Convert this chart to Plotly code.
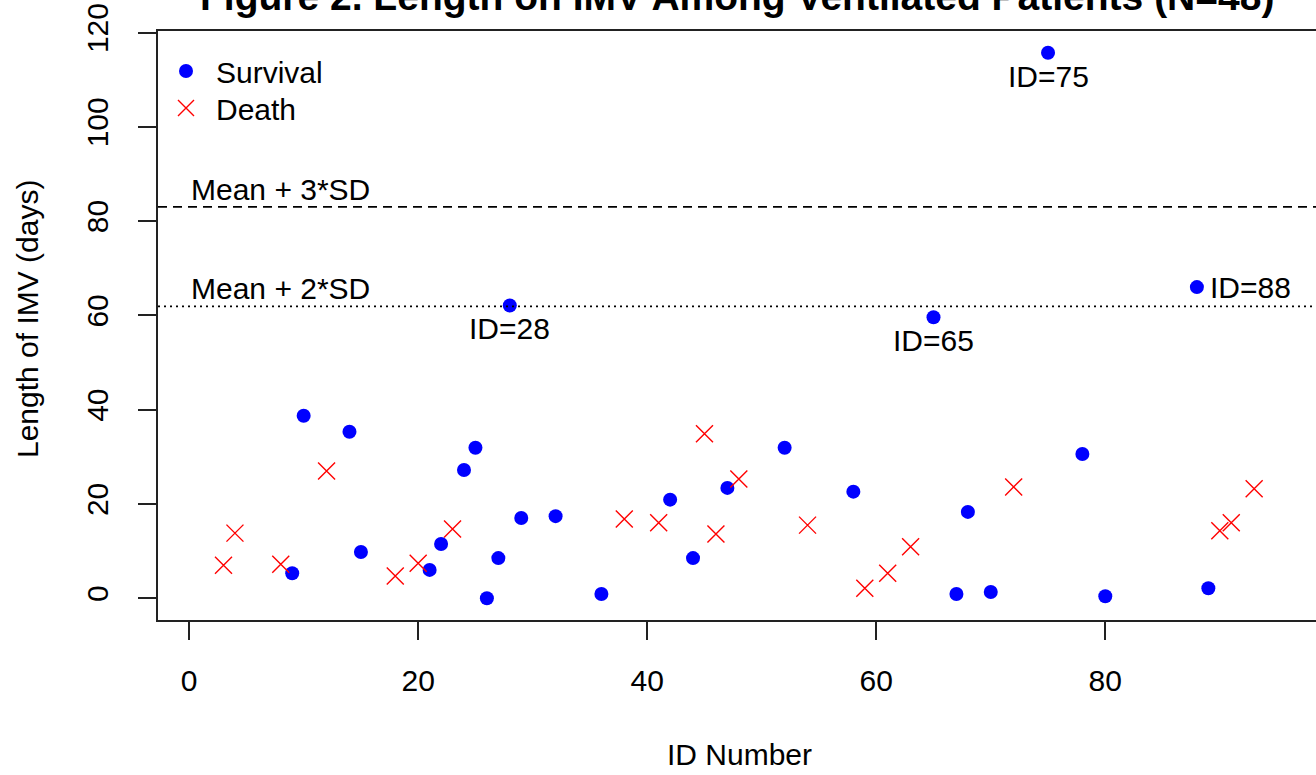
import plotly.graph_objects as go

# ---- data ----
surv_id = [9, 10, 14, 15, 21, 22, 24, 25, 26, 27, 28, 29, 32, 36, 42, 44, 47, 52,
           58, 65, 67, 68, 70, 75, 78, 80, 88, 89]
surv_days = [5.3, 38.7, 35.3, 9.8, 6.0, 11.5, 27.2, 31.9, 0.0, 8.5, 62.1, 17.0, 17.4, 0.9,
             20.9, 8.5, 23.4, 31.9, 22.6, 59.6, 0.9, 18.3, 1.3, 115.7, 30.6, 0.4, 66.0, 2.1]
death_id = [3, 4, 8, 12, 18, 20, 23, 38, 41, 45, 46, 48, 54, 59, 61, 63, 72, 90, 91, 93]
death_days = [7.0, 13.8, 7.2, 27.0, 4.7, 7.4, 14.7, 16.8, 16.0, 34.9, 13.6, 25.3, 15.5,
              2.1, 5.3, 10.9, 23.6, 14.3, 16.0, 23.2]

mean_plus_3sd = 83.0
mean_plus_2sd = 61.9

label_below = {"ID=28": (28, 62.1), "ID=65": (65, 59.6), "ID=75": (75, 115.7)}
label_right = {"ID=88": (88, 66.0)}

x_ticks = [0, 20, 40, 60, 80]
y_ticks = [0, 20, 40, 60, 80, 100, 120]

title_text = "Figure 2. Length on IMV Among Ventilated Patients (N=48)"

FONT = "Liberation Sans, Arial, sans-serif"
FS = 30

fig = go.Figure()
fig.add_trace(go.Scatter(
    x=surv_id, y=surv_days, mode="markers", name="Survival", legend="legend",
    marker=dict(symbol="circle", size=14, color="#0000FF", line=dict(width=0)),
))
fig.add_trace(go.Scatter(
    x=death_id, y=death_days, mode="markers", name="Death", legend="legend2",
    marker=dict(symbol="x-thin-open", size=17, color="#FF0000",
                line=dict(width=1.4, color="#FF0000")),
))

# reference lines
fig.add_shape(type="line", xref="paper", x0=0, x1=1, yref="y",
              y0=mean_plus_3sd, y1=mean_plus_3sd,
              line=dict(color="black", width=1.7, dash="9px,6px"))
fig.add_shape(type="line", xref="paper", x0=0, x1=1, yref="y",
              y0=mean_plus_2sd, y1=mean_plus_2sd,
              line=dict(color="black", width=1.7, dash="2px,4px"))

annos = []
annos.append(dict(x=0, y=mean_plus_3sd, xref="x", yref="y", text="Mean + 3*SD",
                  xanchor="left", yanchor="bottom", showarrow=False, yshift=-1,
                  font=dict(size=FS, color="black", family=FONT)))
annos.append(dict(x=0, y=mean_plus_2sd, xref="x", yref="y", text="Mean + 2*SD",
                  xanchor="left", yanchor="bottom", showarrow=False, yshift=-1,
                  font=dict(size=FS, color="black", family=FONT)))
for t, (xx, yy) in label_below.items():
    annos.append(dict(x=xx, y=yy, xref="x", yref="y", text=t, xanchor="center",
                      yanchor="top", showarrow=False, yshift=-5,
                      font=dict(size=FS, color="black", family=FONT)))
for t, (xx, yy) in label_right.items():
    annos.append(dict(x=xx, y=yy, xref="x", yref="y", text=t, xanchor="left",
                      yanchor="middle", showarrow=False, xshift=11,
                      font=dict(size=FS, color="black", family=FONT)))

PW = 1158.0
PH = 589.0
# axis titles
annos.append(dict(x=(739 - 158) / PW, y=(620 - 754) / PH, xref="paper", yref="paper",
                  text="ID Number", showarrow=False, xanchor="center", yanchor="middle",
                  font=dict(size=FS, color="black", family=FONT)))
annos.append(dict(x=(28 - 158) / PW, y=(620 - 319) / PH, xref="paper", yref="paper",
                  text="Length of IMV (days)", showarrow=False, textangle=-90,
                  xanchor="center", yanchor="middle",
                  font=dict(size=FS, color="black", family=FONT)))
# title (partly cut off at the top, as in the reference)
annos.append(dict(x=(737 - 158) / PW, y=(620 - (-4)) / PH, xref="paper", yref="paper",
                  text="<b>" + title_text + "</b>", showarrow=False,
                  xanchor="center", yanchor="middle",
                  font=dict(size=39, color="black", family=FONT)))

fig.update_layout(
    width=1316, height=775,
    margin=dict(l=158, r=0, t=31, b=155, autoexpand=False),
    paper_bgcolor="white", plot_bgcolor="white",
    font=dict(family=FONT, size=FS, color="black"),
    annotations=annos,
    showlegend=True,
    legend=dict(x=(156 - 158) / PW, y=1 - 14 / PH, xanchor="left", yanchor="top",
                bgcolor="rgba(0,0,0,0)", borderwidth=0, itemwidth=50,
                font=dict(size=FS, color="black", family=FONT)),
    legend2=dict(x=(156 - 158) / PW, y=1 - 51 / PH, xanchor="left", yanchor="top",
                 bgcolor="rgba(0,0,0,0)", borderwidth=0, itemwidth=50,
                 font=dict(size=FS, color="black", family=FONT)),
    xaxis=dict(range=[-2.72, 98.4], tickvals=x_ticks, ticks="outside", ticklen=18,
               tickwidth=1.7, tickcolor="#222", showgrid=False, zeroline=False,
               showline=True, mirror=True, linecolor="#222", linewidth=1.7,
               tickfont=dict(size=FS, color="black", family=FONT),
               ticklabelstandoff=15, automargin=False),
    yaxis=dict(range=[-4.63, 120.33], tickvals=y_ticks, ticks="outside", ticklen=18,
               tickwidth=1.7, tickcolor="#222", showgrid=False, zeroline=False,
               showline=True, mirror=False, linecolor="#222", linewidth=1.7,
               tickangle=-90, ticklabeloverflow="allow",
               tickfont=dict(size=FS, color="black", family=FONT),
               ticklabelstandoff=18, automargin=False),
)

# remove the default page margin so the 1316x775 figure fills the window exactly
fig.write_html(
    "out.html",
    config={"displayModeBar": False},
    post_script="document.body.style.margin='0';document.body.style.overflow='hidden';",
)
